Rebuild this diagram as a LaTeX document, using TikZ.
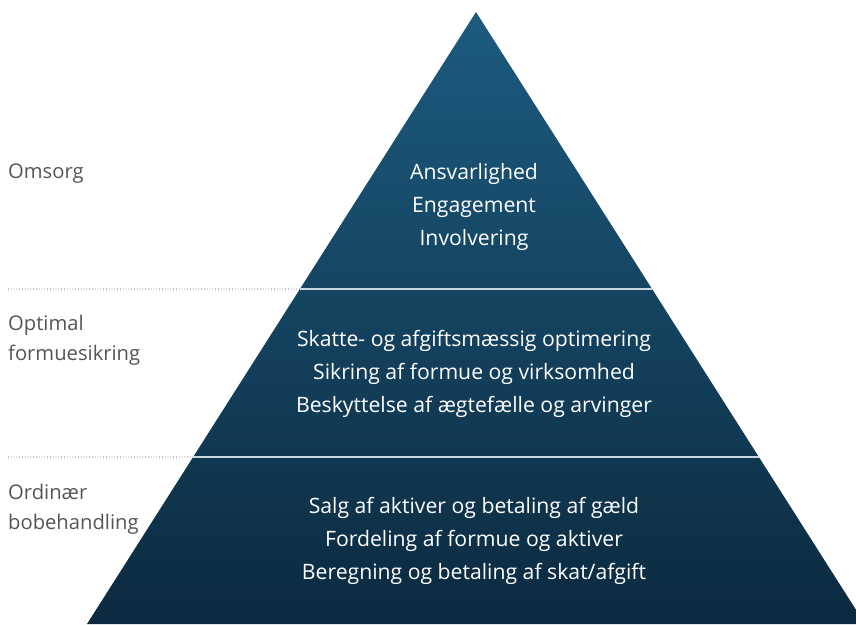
\documentclass[tikz,border=0pt]{standalone}
\usepackage{fontspec}
\setmainfont{Open Sans}
\usepackage{tikz}
\usetikzlibrary{positioning}
\usetikzlibrary{calc}
\definecolor{pyrtop}{HTML}{1D5B7F}
\definecolor{pyrbot}{HTML}{0B2A3F}
\definecolor{sidegray}{HTML}{555555}
\definecolor{divline}{HTML}{C9D7E0}

\begin{document}
\begin{tikzpicture}[x=1pt,y=1pt,
  tier/.style={text=white,align=center,font=\fontsize{21.2}{33}\selectfont},
  side/.style={text=sidegray,align=left,anchor=west,inner sep=0pt,font=\fontsize{20.2}{30}\selectfont},
  divider/.style={divline,line width=1.4pt},
  dotline/.style={sidegray,dotted,line width=0.8pt}]
\useasboundingbox (0,0) rectangle (856,624);
\coordinate (bl) at (87,0);
\coordinate (br) at (865,0);
\coordinate (apex) at (476,612);
% pyramid
\begin{scope}
\clip (0,0) rectangle (856,624);
\shade[top color=pyrtop,bottom color=pyrbot] (bl) -- (apex) -- (br) -- cycle;
\end{scope}
% tier borders
\coordinate (l1) at ($(bl)!0.5474!(apex)$);
\coordinate (r1) at ($(br)!0.5474!(apex)$);
\coordinate (l2) at ($(bl)!0.2729!(apex)$);
\coordinate (r2) at ($(br)!0.2729!(apex)$);
\draw[divider] (l1) -- (r1);
\draw[divider] (l2) -- (r2);
\coordinate (d1) at (8,335);
\coordinate (d2) at (8,167);
\draw[dotline] (d1) -- (l1);
\draw[dotline] (d2) -- (l2);
% texts
\node[tier] (care) at (474,417) {Ansvarlighed\\Engagement\\Involvering};
\node[tier] (optimal) at (474,250) {Skatte- og afgiftsmæssig optimering\\Sikring af formue og virksomhed\\Beskyttelse af ægtefælle og arvinger};
\node[tier] (ordinary) at (474,83) {Salg af aktiver og betaling af gæld\\Fordeling af formue og aktiver\\Beregning og betaling af skat/afgift};
\node[side] (caretxt) at (8,450) {Omsorg};
\node[side] (optimaltxt) at (8,284) {Optimal\\formuesikring};
\node[side] (ordinarytxt) at (8,115) {Ordinær\\bobehandling};
\end{tikzpicture}
\end{document}
